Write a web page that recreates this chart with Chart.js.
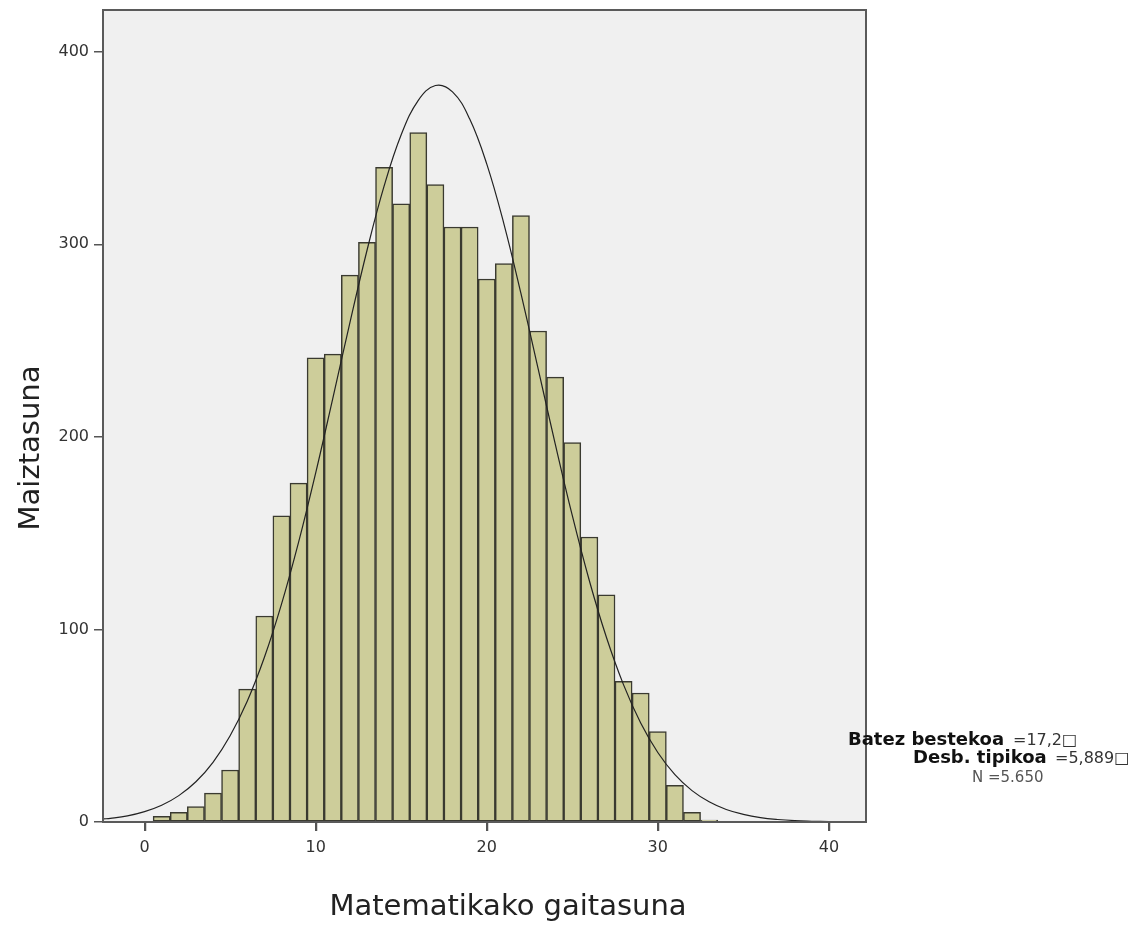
<!DOCTYPE html>
<html>
<head>
<meta charset="utf-8">
<script src="https://cdn.jsdelivr.net/npm/chart.js@4.4.1/dist/chart.umd.min.js"></script>
<style>
body{margin:0;background:#fff}
#wrap{width:1146px;height:927px}
</style>
</head>
<body>
<div id="wrap"><canvas id="histChart"></canvas></div>
<script>

// histogram bins (score -> count)
const scores = [1,2,3,4,5,6,7,8,9,10,11,12,13,14,15,16,17,18,19,20,21,22,23,24,25,26,27,28,29,30,31,32,33]
const counts = [3,5,8,15,27,69,107,159,176,241,243,284,301,340,321,358,331,309,309,282,290,315,255,231,197,148,118,73,67,47,19,5,1]

// normal curve
const curveX = [-2.4,-2,-1,0,1,2,3,4,5,6,7,8,9,10,11,12,13,14,15,16,17,18,19,20,21,22,23,24,25,26,27,28,29,30,31,32,33,34,35,36,37,38,39,40,41]
const curveY = [1.6,1.9,3.2,5.4,8.7,13.7,20.9,31.0,44.8,62.7,85.4,113.0,145.2,181.2,219.9,259.2,296.8,330.2,356.9,374.8,382.5,379.2,365.2,341.8,310.8,274.5,235.6,196.5,159.2,125.3,95.8,71.2,51.4,36.1,24.6,16.3,10.5,6.5,4.0,2.3,1.3,0.7,0.4,0.2,0.1]

const xTicks = [0,10,20,30,40]
const yTicks = [0,100,200,300,400]

const xTitle = "Matematikako gaitasuna"
const yTitle = "Maiztasuna"
const statNames = ["Batez bestekoa","Desb. tipikoa","N"]
const statValues = ["=17,2\u25a1","=5,889\u25a1","=5.650"]

const barData = scores.map((s,i)=>({x:s,y:counts[i]}))
const lineData = curveX.map((x,i)=>({x:x,y:curveY[i]}))

const framePlugin = {
id:'frame',
beforeDatasetsDraw(chart){
const a = chart.chartArea
const ctx = chart.ctx
ctx.save()
ctx.fillStyle = '#f0f0f0'
ctx.fillRect(a.left,a.top,a.right-a.left,a.bottom-a.top)
ctx.restore()
},
afterDraw(chart){
const a = chart.chartArea
const ctx = chart.ctx
ctx.save()
ctx.strokeStyle = '#5a5a5a'
ctx.lineWidth = 2
ctx.strokeRect(a.left,a.top,a.right-a.left,a.bottom-a.top)

// x tick marks under the axis
ctx.strokeStyle = '#555'
ctx.lineWidth = 1.5
xTicks.forEach(v=>{
let px = Math.round(chart.scales.x.getPixelForValue(v))+0.5
ctx.beginPath()
ctx.moveTo(px,a.bottom)
ctx.lineTo(px,a.bottom+9)
ctx.stroke()
})

// axis titles
ctx.fillStyle = '#222'
ctx.font = '29px "DejaVu Sans"'
ctx.textAlign = 'center'
ctx.textBaseline = 'alphabetic'
ctx.fillText(xTitle,508,915)
ctx.translate(39,448)
ctx.rotate(-Math.PI/2)
ctx.fillText(yTitle,0,0)
ctx.setTransform(1,0,0,1,0,0)

// stats box
ctx.textAlign = 'left'
ctx.fillStyle = '#111'
ctx.font = 'bold 18px "DejaVu Sans"'
ctx.fillText(statNames[0],848,745)
ctx.fillText(statNames[1],913,763)
ctx.fillStyle = '#333'
ctx.font = '16px "DejaVu Sans"'
ctx.fillText(statValues[0],1013,745)
ctx.fillText(statValues[1],1055,763)
ctx.fillStyle = '#555'
ctx.font = '15px "DejaVu Sans"'
ctx.fillText(statNames[2]+" "+statValues[2],972,782)
ctx.restore()
}
}

new Chart(document.getElementById("histChart"),{
type:'bar',
data:{
datasets:[{
type:'line',
data:lineData,
borderColor:'#222',
borderWidth:1.2,
pointRadius:0,
tension:0.4,
fill:false,
order:0
},{
type:'bar',
data:barData,
backgroundColor:'#cdcd9a',
borderColor:'#3a3a30',
borderWidth:1.5,
borderSkipped:false,
barPercentage:1,
categoryPercentage:1,
order:1
}]
},
plugins:[framePlugin],
options:{
responsive:true,
maintainAspectRatio:false,
animation:false,
layout:{padding:{left:0,top:10,right:280,bottom:0}},
plugins:{legend:{display:false},tooltip:{enabled:false}},
scales:{
x:{
type:'linear',
offset:false,
min:-2.43,
max:42.17,
afterBuildTicks:s=>{s.ticks = xTicks.map(v=>({value:v}))},
afterFit:s=>{s.height = 105; s.paddingLeft = 0; s.paddingRight = 0},
grid:{offset:false,drawOnChartArea:false,drawTicks:true,tickLength:9,color:'#555',lineWidth:1.5},
border:{display:false},
ticks:{color:'#333',font:{family:'DejaVu Sans',size:16},padding:7,maxRotation:0}
},
y:{
min:0,
max:421.7,
afterBuildTicks:s=>{s.ticks = yTicks.map(v=>({value:v}))},
afterFit:s=>{s.width = 103; s.paddingTop = 0; s.paddingBottom = 0},
grid:{drawOnChartArea:false,drawTicks:true,tickLength:9,color:'#555',lineWidth:1.5},
border:{display:false},
ticks:{color:'#333',font:{family:'DejaVu Sans',size:16},padding:5}
}
}
}
})

</script>
</body>
</html>
